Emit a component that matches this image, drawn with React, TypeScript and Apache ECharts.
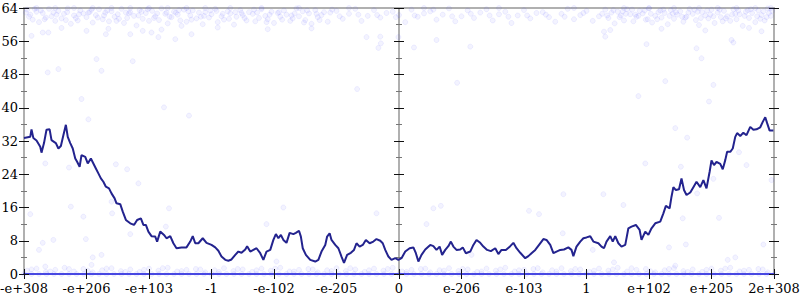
import React, { useEffect, useRef } from "react";
import * as echarts from "echarts";

const xTickLabels = ["-e+308", "-e+206", "-e+103", "-1", "-e-102", "-e-205", "0", "e-206", "e-103", "1", "e+102", "e+205", "2e+308"];
const yMin = 0;
const yMax = 64;
const yStep = 8;

// running average line: [position on the float scale (tick units), bits]
const trendLine: [number, number][] = [
  [0, 32.7], [0.1, 33.0], [0.12, 34.8], [0.15, 32.7], [0.2, 32.1], [0.26, 30.6], [0.28, 29.2], [0.32, 31.5], [0.36, 34.7], [0.41, 34.8],
  [0.44, 32.2], [0.48, 31.8], [0.51, 31.5], [0.55, 30.2], [0.59, 30.8], [0.63, 33.4], [0.67, 35.9], [0.7, 33.0], [0.74, 31.5], [0.78, 30.2],
  [0.82, 27.8], [0.85, 27.0], [0.89, 25.8], [0.92, 28.6], [0.98, 28.2], [1.02, 26.6], [1.07, 27.8], [1.11, 26.6], [1.15, 25.4], [1.19, 24.2],
  [1.23, 23.0], [1.27, 22.2], [1.31, 21.0], [1.36, 20.6], [1.4, 19.4], [1.45, 18.2], [1.48, 17.0], [1.54, 16.8], [1.58, 15.0], [1.63, 13.0],
  [1.7, 12.2], [1.76, 11.8], [1.81, 13.0], [1.87, 13.4], [1.91, 11.8], [1.95, 11.8], [1.99, 10.2], [2.04, 9.1], [2.1, 9.0], [2.13, 7.8],
  [2.18, 10.2], [2.24, 9.4], [2.28, 8.6], [2.34, 9.1], [2.39, 7.4], [2.44, 6.2], [2.52, 6.4], [2.6, 6.4], [2.66, 7.8], [2.7, 9.1],
  [2.74, 7.4], [2.79, 7.4], [2.86, 8.6], [2.92, 7.5], [3.0, 7.0], [3.06, 6.4], [3.11, 5.6], [3.16, 4.2], [3.22, 3.4], [3.27, 3.2],
  [3.32, 3.5], [3.38, 4.6], [3.43, 5.4], [3.48, 5.1], [3.54, 5.9], [3.57, 6.7], [3.62, 5.4], [3.67, 5.8], [3.72, 6.2], [3.78, 5.0],
  [3.83, 3.4], [3.88, 5.4], [3.94, 5.8], [3.99, 8.2], [4.03, 9.6], [4.07, 8.6], [4.11, 9.4], [4.15, 8.2], [4.2, 7.5], [4.25, 9.9],
  [4.31, 9.6], [4.35, 9.9], [4.4, 10.4], [4.43, 9.0], [4.46, 6.2], [4.51, 4.6], [4.58, 3.4], [4.66, 3.0], [4.71, 3.4], [4.76, 5.4],
  [4.82, 7.0], [4.85, 9.0], [4.89, 9.8], [4.92, 8.2], [4.98, 7.0], [5.03, 6.2], [5.08, 4.2], [5.12, 2.7], [5.17, 4.6], [5.23, 5.1],
  [5.28, 5.8], [5.32, 7.4], [5.37, 6.6], [5.42, 7.0], [5.47, 8.2], [5.53, 7.4], [5.59, 7.8], [5.64, 8.4], [5.7, 8.0], [5.74, 7.4],
  [5.78, 5.8], [5.83, 4.2], [5.88, 3.4], [5.94, 3.8], [5.99, 3.4], [6.04, 3.8], [6.1, 5.4], [6.17, 6.2], [6.23, 6.4], [6.27, 5.0],
  [6.31, 3.0], [6.36, 4.6], [6.42, 5.9], [6.5, 7.0], [6.55, 6.7], [6.6, 5.8], [6.65, 6.6], [6.69, 4.6], [6.74, 5.8], [6.79, 6.7],
  [6.83, 7.8], [6.87, 6.6], [6.92, 5.8], [6.98, 5.9], [7.02, 6.4], [7.07, 5.0], [7.14, 5.4], [7.19, 7.0], [7.24, 8.2], [7.3, 7.5],
  [7.35, 6.6], [7.41, 5.8], [7.47, 5.5], [7.54, 6.2], [7.59, 4.8], [7.64, 5.8], [7.71, 5.8], [7.78, 6.7], [7.83, 7.5], [7.88, 6.2],
  [7.94, 5.1], [8.02, 3.8], [8.07, 4.3], [8.12, 5.0], [8.18, 5.8], [8.25, 7.2], [8.31, 8.4], [8.36, 8.2], [8.42, 7.0], [8.47, 5.0],
  [8.52, 5.4], [8.58, 5.8], [8.64, 5.9], [8.71, 6.4], [8.76, 5.8], [8.79, 4.3], [8.84, 6.6], [8.9, 7.8], [8.95, 8.6], [9.0, 8.8],
  [9.06, 9.1], [9.11, 7.8], [9.19, 7.4], [9.24, 6.6], [9.28, 6.2], [9.32, 7.8], [9.38, 9.1], [9.42, 7.8], [9.46, 9.1], [9.51, 7.4],
  [9.56, 6.6], [9.62, 7.0], [9.67, 11.0], [9.72, 11.4], [9.79, 11.8], [9.85, 10.6], [9.88, 8.2], [9.94, 10.2], [9.99, 9.4], [10.04, 11.0],
  [10.1, 12.2], [10.18, 12.6], [10.23, 14.6], [10.27, 16.4], [10.33, 15.8], [10.36, 18.6], [10.39, 20.9], [10.43, 20.2], [10.48, 20.4], [10.52, 23.0],
  [10.56, 20.2], [10.6, 19.0], [10.66, 19.6], [10.71, 20.9], [10.76, 22.2], [10.82, 20.9], [10.87, 22.6], [10.92, 20.6], [10.97, 24.6], [11.0, 27.3],
  [11.04, 26.2], [11.08, 27.0], [11.14, 26.5], [11.18, 25.2], [11.22, 27.4], [11.25, 29.4], [11.3, 29.4], [11.34, 30.2], [11.38, 33.0], [11.41, 33.9],
  [11.46, 33.2], [11.51, 34.0], [11.56, 33.4], [11.62, 35.4], [11.67, 34.7], [11.72, 34.8], [11.78, 35.3], [11.82, 36.6], [11.86, 37.7], [11.89, 36.3],
  [11.93, 34.5], [11.99, 34.5],
];

// samples near the top (many set bits)
const topSamples: [number, number][] = [
  [0.05, 63.6], [0.1, 62.4], [0.14, 61.2], [0.2, 63.1], [0.24, 60.6], [0.3, 62.8], [0.35, 61.7], [0.4, 63.8], [0.44, 62.0], [0.5, 60.9],
  [0.55, 63.3], [0.6, 61.5], [0.64, 62.6], [0.7, 63.9], [0.75, 60.2], [0.8, 62.2], [0.86, 61.0], [0.9, 63.4], [0.95, 62.7], [1.0, 61.8],
  [1.05, 63.0], [1.1, 60.5], [1.15, 62.3], [1.2, 63.7], [1.26, 61.3], [1.3, 62.9], [1.36, 60.8], [1.4, 63.2], [1.45, 61.9], [1.5, 62.5],
  [1.56, 63.8], [1.6, 60.4], [1.65, 61.6], [1.7, 63.0], [1.76, 62.1], [1.8, 59.8], [1.85, 63.5], [1.9, 61.4], [1.95, 62.8], [2.0, 60.9],
  [2.05, 63.3], [2.1, 62.0], [2.16, 61.1], [2.2, 63.9], [2.26, 62.6], [2.3, 60.3], [2.36, 61.8], [2.4, 63.1], [2.46, 62.4], [2.5, 61.0],
  [2.56, 63.6], [2.6, 60.7], [2.66, 62.2], [2.7, 63.4], [2.76, 61.5], [2.8, 62.9], [2.86, 60.1], [2.9, 63.0], [2.96, 61.7], [3.0, 62.5],
  [3.06, 63.8], [3.1, 60.6], [3.16, 62.0], [3.2, 61.2], [3.26, 63.2], [3.3, 62.7], [3.36, 60.0], [3.4, 61.9], [3.46, 63.5], [3.5, 62.3],
  [3.56, 61.0], [3.6, 63.0], [3.66, 62.6], [3.7, 60.8], [3.76, 61.6], [3.8, 63.7], [3.86, 62.1], [3.9, 61.3], [3.96, 63.1], [4.0, 60.4],
  [4.06, 62.8], [4.1, 61.9], [4.16, 63.4], [4.2, 62.4], [4.26, 60.9], [4.3, 61.5], [4.36, 63.9], [4.4, 62.0], [4.46, 63.2], [4.5, 61.1],
  [4.56, 62.7], [4.6, 60.2], [4.66, 63.5], [4.7, 61.8], [4.76, 62.3], [4.8, 63.0], [4.86, 60.7], [4.9, 62.9],
  [5.0, 63.3], [5.1, 61.4], [5.2, 62.6], [5.3, 63.8], [5.4, 60.9], [5.5, 62.1], [5.6, 63.5], [5.7, 61.7], [5.8, 62.8], [5.9, 63.1],
  [6.0, 62.3], [6.1, 60.6], [6.2, 63.6], [6.3, 61.9], [6.4, 62.7], [6.5, 63.2], [6.6, 61.2], [6.7, 62.4], [6.8, 63.9], [6.9, 60.8],
  [7.0, 62.0], [7.1, 63.4], [7.2, 61.6], [7.3, 62.9], [7.4, 63.7], [7.5, 61.0], [7.6, 62.5], [7.7, 63.1], [7.8, 60.4], [7.9, 62.2],
  [8.0, 63.5], [8.1, 61.5], [8.2, 62.8], [8.3, 63.0], [8.4, 61.8], [8.5, 60.7], [8.6, 62.6], [8.7, 63.8], [8.8, 61.3], [8.9, 62.3],
  [9.0, 63.3], [9.1, 60.9], [9.2, 62.0],
  [9.3, 63.6], [9.35, 61.6], [9.4, 62.9], [9.45, 60.3], [9.5, 63.1], [9.55, 62.2], [9.6, 61.0], [9.65, 63.7], [9.7, 62.5], [9.75, 60.8],
  [9.8, 61.9], [9.85, 63.3], [9.9, 62.7], [9.95, 61.2], [10.0, 63.9], [10.05, 60.5], [10.1, 62.1], [10.15, 63.0], [10.2, 61.7], [10.25, 62.8],
  [10.3, 60.1], [10.35, 63.5], [10.4, 61.4], [10.45, 62.4], [10.5, 63.2], [10.55, 60.7], [10.6, 61.9], [10.65, 63.8], [10.7, 62.6], [10.75, 61.1],
  [10.8, 59.9], [10.85, 63.0], [10.9, 62.2], [10.95, 61.5], [11.0, 63.6], [11.05, 60.4], [11.1, 62.9], [11.15, 61.8], [11.2, 63.3], [11.25, 62.0],
  [11.3, 60.9], [11.35, 63.7], [11.4, 61.3], [11.45, 62.5], [11.5, 59.7], [11.55, 63.1], [11.6, 61.6], [11.65, 62.8], [11.7, 60.6], [11.75, 63.4],
  [11.8, 62.3], [11.85, 61.0], [11.9, 63.9], [11.95, 62.1],
  [0.08, 61.9], [0.27, 63.4], [0.47, 62.9], [0.67, 61.1], [0.88, 62.5], [1.08, 63.6], [1.28, 62.2], [1.48, 60.9], [1.68, 62.7], [1.88, 63.1],
  [2.08, 61.6], [2.28, 62.9], [2.48, 63.5], [2.68, 61.2], [2.88, 62.1], [3.08, 63.3], [3.28, 61.4], [3.48, 62.8], [3.68, 63.6], [3.88, 60.6],
  [4.08, 63.0], [4.28, 62.2], [4.48, 60.5], [4.68, 62.6], [9.58, 63.2], [9.78, 62.4], [9.98, 61.3], [10.18, 63.4], [10.38, 62.7], [10.58, 61.7],
  [10.78, 63.1], [10.98, 62.4], [11.18, 60.8], [11.38, 62.6], [11.58, 63.5], [11.78, 61.4], [11.92, 62.8],
  [0.03, 62.9], [0.17, 63.8], [0.33, 61.3], [0.52, 62.4], [0.69, 63.0], [0.83, 61.6], [1.03, 62.9], [1.18, 61.7], [1.33, 63.4], [1.52, 61.4],
  [1.63, 62.9], [1.83, 62.2], [1.98, 63.7], [2.13, 62.7], [2.33, 61.9], [2.43, 62.9], [2.63, 63.2], [2.83, 61.9], [2.98, 63.4], [3.18, 62.6],
  [3.38, 63.0], [3.53, 61.6], [3.73, 62.9], [3.93, 62.4], [4.13, 61.2], [4.33, 62.7], [4.53, 63.4], [4.73, 61.1], [4.93, 63.6], [5.05, 62.0],
  [5.35, 62.4], [5.65, 62.3], [5.95, 61.8], [6.25, 62.2], [6.55, 63.6], [6.85, 62.0], [7.15, 62.6], [7.45, 62.2], [7.75, 61.9], [8.05, 62.2],
  [8.35, 62.4], [8.65, 61.9], [8.95, 62.8], [9.25, 62.6], [9.33, 62.2], [9.43, 63.5], [9.53, 61.8], [9.63, 62.6], [9.73, 63.6], [9.83, 62.1],
  [9.93, 63.4], [10.03, 62.6], [10.13, 61.3], [10.23, 63.6], [10.33, 62.1], [10.43, 63.0], [10.53, 61.9], [10.63, 62.9], [10.73, 63.6], [10.83, 61.6],
  [10.93, 63.4], [11.03, 62.0], [11.13, 63.6], [11.23, 61.5], [11.33, 62.4], [11.43, 63.4], [11.53, 62.1], [11.63, 63.7], [11.73, 62.0], [11.83, 63.2],
  [11.88, 61.8], [11.97, 63.3],
  [0.2, 64], [0.5, 64], [0.8, 64], [1.1, 64], [1.4, 64], [1.7, 64], [2.0, 64], [2.3, 64], [2.6, 64], [2.9, 64],
  [3.3, 64], [3.8, 64], [4.4, 64], [5.2, 64], [6.4, 64], [7.6, 64], [8.8, 64], [9.6, 64], [10.0, 64], [10.4, 64],
  [10.8, 64], [11.1, 64], [11.4, 64], [11.7, 64], [11.95, 64],
];

// scattered samples in the middle
const midSamples: [number, number][] = [
  [0.12, 57.3], [0.3, 58.1], [0.39, 58.1], [0.38, 48.5], [0.55, 49.3], [1.16, 51.7], [1.24, 48.9], [1.74, 51.2], [0.92, 42.1], [1.0, 58.5],
  [1.31, 57.7], [1.7, 57.7], [1.9, 58.5], [2.04, 58.1], [2.15, 57.0], [2.42, 56.5], [2.68, 57.7], [2.52, 59.7], [1.03, 37.2], [2.24, 40.1],
  [2.64, 38.1], [0.34, 26.6], [0.72, 25.6], [1.47, 26.4], [1.65, 25.2], [1.83, 21.8], [0.75, 16.2], [2.32, 15.8], [0.1, 14.4], [0.95, 13.8],
  [1.4, 17.4], [1.41, 14.6], [2.27, 11.4], [1.7, 9.6], [0.47, 8.2], [0.99, 8.4], [0.3, 7.5], [0.24, 5.8], [1.24, 4.6], [1.1, 4.0],
  [1.08, 2.2], [0.34, 1.8], [4.15, 16.0], [5.64, 14.6], [6.67, 16.4], [3.88, 12.0], [6.44, 12.0], [4.04, 3.0], [8.63, 19.2], [6.55, 15.8],
  [8.08, 15.2], [8.24, 14.4], [8.62, 9.8], [9.1, 5.8], [7.16, 4.6], [9.59, 16.6], [10.59, 7.1], [10.32, 6.4], [11.83, 7.1], [11.26, 3.4],
  [11.38, 4.0], [9.44, 2.8], [10.42, 2.0], [10.96, 41.5], [10.42, 35.1], [10.61, 32.8], [9.94, 26.6], [10.51, 25.8], [11.44, 29.3], [11.56, 26.2],
  [11.03, 22.9], [11.96, 22.6], [9.27, 19.2], [10.77, 19.4], [10.54, 13.4], [11.12, 13.5], [9.96, 55.3], [10.76, 54.3], [10.84, 51.9], [10.26, 46.4],
  [11.03, 45.5], [9.83, 42.8], [9.28, 58.3], [9.3, 57.1], [9.38, 58.7], [11.32, 56.3], [11.35, 55.7], [5.7, 57.1], [5.71, 55.5], [5.67, 54.4],
  [6.24, 54.5], [6.6, 56.3], [7.14, 54.7], [5.48, 57.0], [6.93, 46.0], [5.33, 44.5], [5.99, 57.0], [0.6, 59.2], [1.35, 59.0], [2.2, 58.8],
  [3.1, 59.3], [3.9, 58.9], [4.6, 59.1], [10.2, 59.0], [10.9, 58.6], [11.6, 59.2], [11.8, 58.4],
];

// samples near the bottom (few set bits)
const lowSamples: [number, number][] = [
  [0.05, 0.8], [0.2, 1.3], [0.35, 0.5], [0.5, 1.0], [0.65, 1.5], [0.8, 0.6], [0.95, 1.2], [1.1, 0.4], [1.25, 0.9], [1.4, 1.4],
  [1.55, 0.7], [1.7, 1.1], [1.85, 0.5], [2.0, 1.3], [2.15, 0.8], [2.3, 1.5], [2.45, 0.6], [2.6, 1.0], [2.75, 1.2], [2.9, 0.4],
  [3.05, 0.9], [3.2, 1.4], [3.35, 0.7], [3.5, 1.1], [3.65, 0.5], [3.8, 1.3], [3.95, 0.8], [4.1, 1.5], [4.25, 0.6], [4.4, 1.0],
  [4.55, 1.2], [4.7, 0.4], [4.85, 0.9], [5.0, 1.4], [5.15, 0.7], [5.3, 1.1], [5.45, 0.5], [5.6, 1.3], [5.75, 0.8], [5.9, 1.5],
  [6.05, 0.6], [6.2, 1.0], [6.35, 1.2], [6.5, 0.4], [6.65, 0.9], [6.8, 1.4], [6.95, 0.7], [7.1, 1.1], [7.25, 0.5], [7.4, 1.3],
  [7.55, 0.8], [7.7, 1.5], [7.85, 0.6], [8.0, 1.0], [8.15, 1.2], [8.3, 0.4], [8.45, 0.9], [8.6, 1.4], [8.75, 0.7], [8.9, 1.1],
  [9.05, 0.5], [9.2, 1.3], [9.35, 0.8], [9.5, 1.5], [9.65, 0.6], [9.8, 1.0], [9.95, 1.2], [10.1, 0.4], [10.25, 0.9], [10.4, 1.4],
  [10.55, 0.7], [10.7, 1.1], [10.85, 0.5], [11.0, 1.3], [11.15, 0.8], [11.3, 1.5], [11.45, 0.6], [11.6, 1.0], [11.75, 1.2], [11.9, 0.4],
  [0.12, 1.1], [0.42, 0.6], [0.72, 1.2], [1.02, 0.8], [1.32, 1.3], [1.62, 0.5], [1.92, 1.0], [2.22, 1.4], [2.52, 0.7], [2.82, 1.1],
  [3.12, 0.5], [3.42, 1.2], [3.72, 0.9], [4.02, 1.3], [4.32, 0.6], [4.62, 1.1], [4.92, 0.7], [5.22, 1.4], [5.52, 0.9], [5.82, 1.2],
  [6.12, 0.5], [6.42, 1.3], [6.72, 0.8], [7.02, 1.2], [7.32, 0.6], [7.62, 1.1], [7.92, 0.9], [8.22, 1.4], [8.52, 0.6], [8.82, 1.2],
  [9.12, 0.8], [9.42, 1.1], [9.72, 1.4], [10.02, 0.7], [10.32, 1.2], [10.62, 0.5], [10.92, 1.0], [11.22, 1.3], [11.52, 0.8], [11.82, 1.1],
];

// samples exactly at zero
const zeroSamples: [number, number][] = [
  [0.0, 0], [0.12, 0], [0.24, 0], [0.36, 0], [0.48, 0], [0.6, 0], [0.72, 0], [0.84, 0], [0.96, 0], [1.08, 0],
  [1.2, 0], [1.32, 0], [1.44, 0], [1.56, 0], [1.68, 0], [1.8, 0], [1.92, 0], [2.04, 0], [2.16, 0], [2.28, 0],
  [2.4, 0], [2.52, 0], [2.64, 0], [2.76, 0], [2.88, 0], [3.0, 0], [3.12, 0], [3.24, 0], [3.36, 0], [3.48, 0],
  [3.6, 0], [3.72, 0], [3.84, 0], [3.96, 0], [4.08, 0], [4.2, 0], [4.32, 0], [4.44, 0], [4.56, 0], [4.68, 0],
  [4.8, 0], [4.92, 0], [5.04, 0], [5.16, 0], [5.28, 0], [5.4, 0], [5.52, 0], [5.64, 0], [5.76, 0], [5.88, 0],
  [6.0, 0], [6.12, 0], [6.24, 0], [6.36, 0], [6.48, 0], [6.6, 0], [6.72, 0], [6.84, 0], [6.96, 0], [7.08, 0],
  [7.2, 0], [7.32, 0], [7.44, 0], [7.56, 0], [7.68, 0], [7.8, 0], [7.92, 0], [8.04, 0], [8.16, 0], [8.28, 0],
  [8.4, 0], [8.52, 0], [8.64, 0], [8.76, 0], [8.88, 0], [9.0, 0], [9.12, 0], [9.24, 0], [9.36, 0], [9.48, 0],
  [9.6, 0], [9.72, 0], [9.84, 0], [9.96, 0], [10.08, 0], [10.2, 0], [10.32, 0], [10.44, 0], [10.56, 0], [10.68, 0],
  [10.8, 0], [10.92, 0], [11.04, 0], [11.16, 0], [11.28, 0], [11.4, 0], [11.52, 0], [11.64, 0], [11.76, 0], [11.88, 0], [12.0, 0],
];

const FONT = "DejaVu Serif";
const GRAY = "#b0b0b0";
const TICK = "#111111";
const MINOR = "#777777";

export default function App() {
  const ref = useRef<HTMLDivElement>(null);

  useEffect(() => {
    if (!ref.current) return;
    const chart = echarts.init(ref.current, null, { renderer: "svg" });

    const xBase = {
      type: "value" as const,
      min: 0,
      max: xTickLabels.length - 1,
      interval: 1,
      splitLine: { show: false },
    };
    const yBase = {
      type: "value" as const,
      min: yMin,
      max: yMax,
      interval: yStep,
      splitLine: { show: false },
      minorSplitLine: { show: false },
    };
    const yTicks = (inside: boolean) => ({
      axisTick: { show: true, inside, length: 5, lineStyle: { color: TICK, width: 1 } },
      minorTick: { show: true, splitNumber: 2, length: 3, lineStyle: { color: MINOR, width: 1 } },
    });

    const dotStyle = {
      color: "rgba(80,80,255,0.09)",
      borderColor: "rgba(80,80,255,0.13)",
      borderWidth: 0.8,
    };

    chart.setOption({
      animation: false,
      backgroundColor: "#ffffff",
      grid: { left: 24, right: 26, top: 8, bottom: 26, containLabel: false, outerBoundsMode: "none" },
      xAxis: [
        {
          ...xBase,
          position: "bottom",
          axisLine: { show: true, onZero: false, lineStyle: { color: "#4848e0", width: 2 } },
          axisTick: { show: true, length: 5, lineStyle: { color: TICK } },
          axisLabel: {
            show: true,
            showMinLabel: true,
            showMaxLabel: true,
            margin: 8,
            fontFamily: FONT,
            fontSize: 13,
            color: "#000",
            formatter: (v: number) => xTickLabels[Math.round(v)] ?? "",
          },
        },
        {
          ...xBase,
          position: "bottom",
          axisLine: { show: false, onZero: false },
          axisTick: { show: true, inside: true, length: 5, lineStyle: { color: TICK } },
          axisLabel: { show: false },
        },
        {
          ...xBase,
          position: "top",
          axisLine: { show: true, onZero: false, lineStyle: { color: GRAY, width: 2 } },
          axisTick: { show: false },
          axisLabel: { show: false },
        },
      ],
      yAxis: [
        {
          ...yBase,
          position: "left",
          axisLine: { show: true, onZero: false, lineStyle: { color: GRAY, width: 2 } },
          ...yTicks(false),
          axisLabel: { show: true, margin: 6, fontFamily: FONT, fontSize: 13, color: "#000" },
        },
        {
          ...yBase,
          position: "left",
          axisLine: { show: false, onZero: false },
          ...yTicks(true),
          axisLabel: { show: false },
        },
        {
          ...yBase,
          position: "left",
          offset: -375,
          axisLine: { show: true, onZero: false, lineStyle: { color: GRAY, width: 2 } },
          ...yTicks(false),
          axisLabel: { show: false },
        },
        {
          ...yBase,
          position: "left",
          offset: -375,
          axisLine: { show: false, onZero: false },
          ...yTicks(true),
          axisLabel: { show: false },
        },
        {
          ...yBase,
          position: "right",
          axisLine: { show: true, onZero: false, lineStyle: { color: GRAY, width: 2 } },
          ...yTicks(false),
          axisLabel: { show: false },
        },
        {
          ...yBase,
          position: "right",
          axisLine: { show: false, onZero: false },
          ...yTicks(true),
          axisLabel: { show: false },
        },
      ],
      series: [
        {
          type: "scatter",
          xAxisIndex: 0,
          yAxisIndex: 0,
          symbolSize: 5,
          clip: false,
          itemStyle: dotStyle,
          data: [...zeroSamples, ...lowSamples, ...midSamples, ...topSamples],
          silent: true,
          z: 3,
        },
        {
          type: "line",
          xAxisIndex: 0,
          yAxisIndex: 0,
          showSymbol: false,
          symbol: "none",
          lineStyle: { color: "#23238e", width: 2 },
          data: trendLine,
          silent: true,
          z: 4,
        },
      ],
    });

    return () => chart.dispose();
  }, []);

  return <div ref={ref} style={{ width: 800, height: 300, position: "absolute", left: 0, top: 0 }} />;
}
